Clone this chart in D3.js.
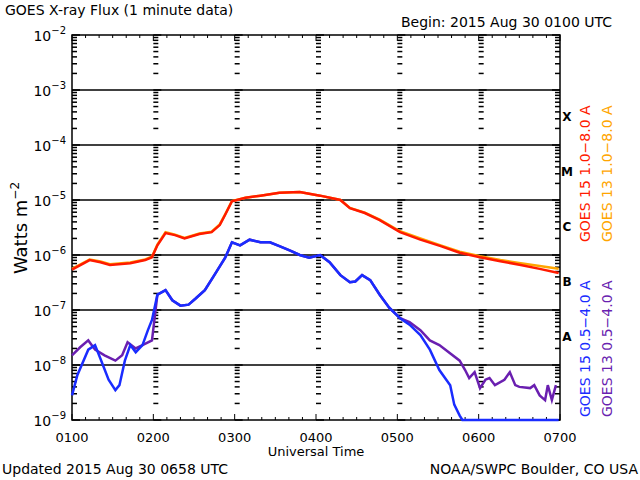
<!DOCTYPE html>
<html><head><meta charset="utf-8">
<script src="https://cdn.jsdelivr.net/npm/d3@7"></script>
<style>body{margin:0;background:#fff}text{font-family:"DejaVu Sans",sans-serif}</style>
</head><body>
<script>
// minutes after 0100 UTC, flux in W m^-2
var g15LongT = [0,13,21,28,43,54,59,63,69,76,83,94,103,109,113,118,128,139,153,168,183,198,205,216,227,242,257,272,286,301,316,331,345,359];
var g15LongV = [5.4e-7,8.1e-7,7.4e-7,6.6e-7,7.1e-7,8.1e-7,9.1e-7,1.5e-6,2.5e-6,2.3e-6,2.0e-6,2.4e-6,2.6e-6,3.5e-6,5.4e-6,9.5e-6,1.1e-5,1.2e-5,1.35e-5,1.4e-5,1.2e-5,1.0e-5,7.1e-6,5.8e-6,4.3e-6,2.6e-6,1.9e-6,1.45e-6,1.1e-6,9.1e-7,7.7e-7,6.6e-7,5.6e-7,4.7e-7];
var g13LongV = [5.6e-7,8.3e-7,7.6e-7,6.8e-7,7.3e-7,8.3e-7,9.3e-7,1.55e-6,2.6e-6,2.35e-6,2.05e-6,2.45e-6,2.65e-6,3.6e-6,5.5e-6,9.6e-6,1.1e-5,1.2e-5,1.35e-5,1.4e-5,1.2e-5,1.0e-5,7.2e-6,5.9e-6,4.4e-6,2.7e-6,2.0e-6,1.5e-6,1.15e-6,9.5e-7,8.1e-7,7.1e-7,6.3e-7,5.6e-7];
var g15ShortT = [0,4,12,17,21,27,32,35,39,43,47,52,56,59,63,69,74,80,86,91,98,105,113,118,124,131,139,146,153,161,168,175,183,190,198,205,209,214,220,227,234,242,249,257,264,271,279,282,286,288,359];
var g15ShortV = [2.8e-9,6.6e-9,1.9e-8,2.3e-8,1.3e-8,5.4e-9,3.5e-9,4.3e-9,1.2e-8,2.3e-8,1.7e-8,2.3e-8,4.3e-8,6.6e-8,1.9e-7,2.3e-7,1.5e-7,1.2e-7,1.25e-7,1.6e-7,2.3e-7,4.3e-7,8.9e-7,1.7e-6,1.5e-6,1.9e-6,1.7e-6,1.7e-6,1.45e-6,1.2e-6,1.0e-6,8.9e-7,1.0e-6,7.4e-7,4.3e-7,3.2e-7,3.3e-7,4.3e-7,3.5e-7,1.9e-7,1.1e-7,7.1e-8,5.4e-8,3.5e-8,1.9e-8,8.1e-9,4.3e-9,1.9e-9,1.2e-9,1e-9,1e-9];
var g13ShortT = [0,6,12,17,24,32,37,41,47,52,59,63,69,74,80,86,91,98,105,113,118,124,131,139,146,153,161,168,175,183,190,198,205,209,214,220,227,234,242,249,257,264,271,286,290,293,297,301,305,308,312,319,323,327,330,338,341,345,349,351,354,357];
var g13ShortV = [1.5e-8,2.1e-8,2.8e-8,1.9e-8,1.5e-8,1.2e-8,1.5e-8,2.6e-8,2.0e-8,2.3e-8,2.8e-8,1.9e-7,2.3e-7,1.5e-7,1.2e-7,1.25e-7,1.6e-7,2.3e-7,4.3e-7,8.9e-7,1.7e-6,1.5e-6,1.9e-6,1.7e-6,1.7e-6,1.45e-6,1.2e-6,1.0e-6,8.9e-7,1.0e-6,7.4e-7,4.3e-7,3.2e-7,3.3e-7,4.3e-7,3.5e-7,1.9e-7,1.1e-7,7.1e-8,6.0e-8,4.3e-8,2.8e-8,2.3e-8,1.2e-8,8.1e-9,5.8e-9,7.4e-9,3.8e-9,5.4e-9,5.8e-9,4.3e-9,5.4e-9,7.4e-9,4.3e-9,4.0e-9,3.8e-9,4.3e-9,2.8e-9,2.3e-9,4.3e-9,2.3e-9,4.3e-9];
var hourLabels = ["0100","0200","0300","0400","0500","0600","0700"];
var decades = [-9,-8,-7,-6,-5,-4,-3,-2];
var classLetters = ["A","B","C","M","X"];

var W = 640, H = 480;
var L = 72, R = 560, T = 35, B = 420;
var svg = d3.select("body").append("svg").attr("width", W).attr("height", H);

var x = d3.scaleLinear().domain([0, 360]).range([L, R]);
var y = d3.scaleLog().domain([1e-9, 1e-2]).range([B, T]).clamp(true);

// decade grid lines
svg.selectAll(".grid").data(decades.slice(1, -1)).enter().append("line")
    .attr("x1", L).attr("x2", R)
    .attr("y1", function(d) { return y(Math.pow(10, d)); })
    .attr("y2", function(d) { return y(Math.pow(10, d)); })
    .attr("stroke", "#000").attr("stroke-width", 1.5);

// log minor ticks on left, right and at every hour
var minor = [];
decades.slice(0, -1).forEach(function(e) {
    for (var k = 1; k <= 9; k++) minor.push({v: k * Math.pow(10, e), major: k == 1});
});
minor.push({v: 1e-2, major: true});
for (var h = 0; h <= 6; h++) {
    var cx = x(h * 60);
    minor.forEach(function(m) {
        var len = m.major ? 8 : 5;
        var x1 = cx, x2 = cx + len;
        if (h == 6) { x1 = cx - len; x2 = cx; }
        svg.append("line").attr("x1", x1).attr("x2", x2)
            .attr("y1", y(m.v)).attr("y2", y(m.v))
            .attr("stroke", "#000").attr("stroke-width", 1.5);
    });
}

// frame
svg.append("rect").attr("x", L).attr("y", T).attr("width", R - L).attr("height", B - T)
    .attr("fill", "none").attr("stroke", "#000").attr("stroke-width", 1.5);

// 10 minute ticks top and bottom
d3.range(0, 361, 10).forEach(function(m) {
    var len = m % 60 == 0 ? 6 : 3;
    svg.append("line").attr("x1", x(m)).attr("x2", x(m)).attr("y1", T).attr("y2", T + len).attr("stroke", "#000");
    svg.append("line").attr("x1", x(m)).attr("x2", x(m)).attr("y1", B).attr("y2", B - len).attr("stroke", "#000");
});

svg.selectAll(".hl").data(hourLabels).enter().append("text")
    .attr("x", function(d, i) { return x(i * 60); }).attr("y", 442)
    .attr("text-anchor", "middle").attr("font-size", 13).text(function(d) { return d; });
svg.append("text").attr("x", 316).attr("y", 456).attr("text-anchor", "middle").attr("font-size", 13).text("Universal Time");

// y labels 10^n
decades.forEach(function(e) {
    var t = svg.append("text").attr("x", 66).attr("y", y(Math.pow(10, e)) + 6)
        .attr("text-anchor", "end").attr("font-size", 14);
    t.append("tspan").text("10");
    t.append("tspan").attr("dy", -7).attr("font-size", 10).text("\u2212" + (-e));
});
var yl = svg.append("text").attr("transform", "translate(27,228) rotate(-90)")
    .attr("text-anchor", "middle").attr("font-size", 18);
yl.append("tspan").text("Watts m");
yl.append("tspan").attr("dy", -8).attr("font-size", 12).text("\u22122");

// class letters
classLetters.forEach(function(c, i) {
    svg.append("text").attr("x", 567).attr("y", y(3.2 * Math.pow(10, -8 + i)) + 4)
        .attr("text-anchor", "middle").attr("font-family", "Liberation Serif")
        .attr("font-weight", "bold").attr("font-size", 12).text(c);
});

var line = d3.line().x(function(d) { return x(d[0]); }).y(function(d) { return y(d[1]); });
function series(ts, vs, col) {
    svg.append("path").datum(d3.zip(ts, vs)).attr("d", line)
        .attr("fill", "none").attr("stroke", col).attr("stroke-width", 2.5);
}
series(g13ShortT, g13ShortV, "#6a1fb0");
series(g15ShortT, g15ShortV, "#1a2cff");
series(g15LongT, g13LongV, "#ffa500");
series(g15LongT, g15LongV, "#ff1a00");

// legends (rotated)
function legend(xp, yp, txt, col) {
    svg.append("text").attr("transform", "translate(" + xp + "," + yp + ") rotate(-90)")
        .attr("font-size", 14).attr("fill", col).text(txt);
}
legend(590, 242, "GOES 15 1.0\u22128.0 A", "#ff1a00");
legend(612, 242, "GOES 13 1.0\u22128.0 A", "#ffa500");
legend(590, 417, "GOES 15 0.5\u22124.0 A", "#1a2cff");
legend(612, 417, "GOES 13 0.5\u22124.0 A", "#6a1fb0");

svg.append("text").attr("x", 5).attr("y", 15).attr("font-size", 14).text("GOES X-ray Flux (1 minute data)");
svg.append("text").attr("x", 612).attr("y", 27).attr("text-anchor", "end").attr("font-size", 14).text("Begin: 2015 Aug 30 0100 UTC");
svg.append("text").attr("x", 2).attr("y", 474).attr("font-size", 14).text("Updated 2015 Aug 30 0658 UTC");
svg.append("text").attr("x", 638).attr("y", 474).attr("text-anchor", "end").attr("font-size", 14).text("NOAA/SWPC Boulder, CO USA");
</script>
</body></html>
